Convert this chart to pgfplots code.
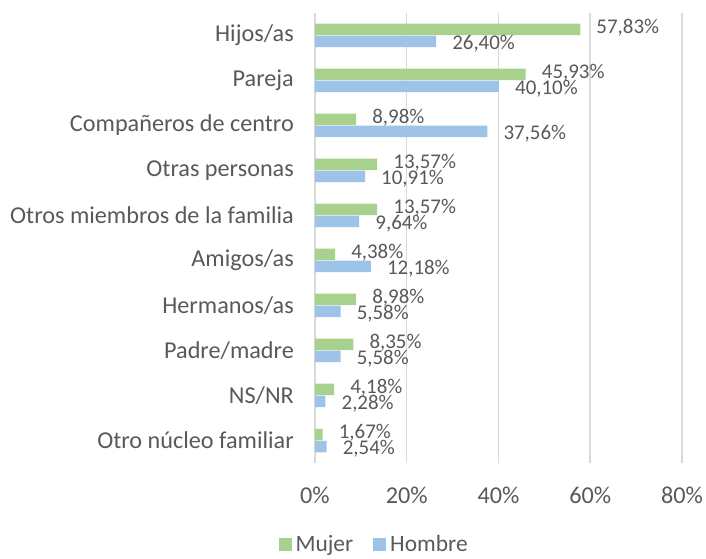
\documentclass[border=0pt]{standalone}
\usepackage{fontspec}
\setmainfont{Carlito}
\usepackage{pgfplots}
\pgfplotsset{compat=1.18}
\usepackage{pgfplotstable}
\definecolor{mgreen}{HTML}{A9D18E}
\definecolor{mblue}{HTML}{9DC3E6}
\definecolor{txt}{HTML}{595959}
\definecolor{gridc}{HTML}{D9D9D9}

\pgfplotstableread{
y mujer hombre
0 1.67 2.54
1 4.18 2.28
2 8.35 5.58
3 8.98 5.58
4 4.38 12.18
5 13.57 9.64
6 13.57 10.91
7 8.98 37.56
8 45.93 40.10
9 57.83 26.40
}\datatable

\begin{document}
\begin{tikzpicture}
\begin{axis}[
 scale only axis, width=367bp, height=450bp,
 xbar, bar width=11.5bp,
 xmin=0, xmax=80, ymin=-0.5, ymax=9.5,
 xtick={0,20,40,60,80}, xticklabels={0\%,20\%,40\%,60\%,80\%},
 ytick={0,...,9},
 yticklabels={Otro núcleo familiar, NS/NR, Padre/madre, Hermanos/as, Amigos/as, Otros miembros de la familia, Otras personas, Compañeros de centro, Pareja, Hijos/as},
 axis x line*=bottom, axis y line*=left,
 x axis line style={draw=none},
 y axis line style={draw=gridc, line width=1.5bp, -},
 major tick length=0pt,
 xmajorgrids, grid style={draw=gridc, line width=1.5bp},
 tick label style={font=\fontsize{24.3}{29}\selectfont, text=txt},
 xticklabel style={anchor=center, yshift=-32bp},
 yticklabel style={anchor=east, inner sep=0pt, xshift=-21bp},
 point meta=x,
 nodes near coords={\pgfmathprintnumber[fixed,fixed zerofill,precision=2,use comma,assume math mode=true]{\pgfplotspointmeta}\%},
 nodes near coords style={font=\fontsize{21}{25}\selectfont, text=txt, anchor=west, inner sep=0pt, xshift=16bp},
 legend style={at={(axis description cs:0.161,-0.181)}, anchor=center, draw=none, fill=none,
   font=\fontsize{23.5}{28}\selectfont, text=txt, legend columns=2,
   /tikz/every odd column/.append style={column sep=2bp},
   /tikz/every even column/.append style={column sep=18bp}},
 clip=false,
]
\addplot[fill=mgreen, draw=none, bar shift=6bp,
  nodes near coords style={yshift=1.5bp},
  legend image code/.code={\fill[mgreen] (0bp,-6.5bp) rectangle (13bp,6.5bp);}] table[x=mujer, y=y] {\datatable};
\addlegendentry{Mujer}
\addplot[fill=mblue, draw=none, bar shift=-6bp,
  nodes near coords style={yshift=-2bp},
  legend image code/.code={\fill[mblue] (0bp,-6.5bp) rectangle (13bp,6.5bp);}] table[x=hombre, y=y] {\datatable};
\addlegendentry{Hombre}
\end{axis}
\pgfresetboundingbox
\useasboundingbox (-315bp,-96bp) rectangle (391bp,463bp);
\end{tikzpicture}
\end{document}
